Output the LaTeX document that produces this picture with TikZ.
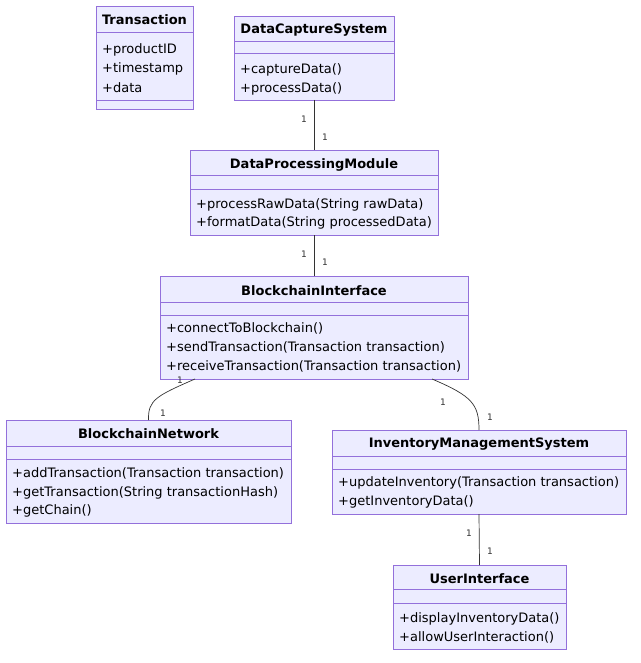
\documentclass[tikz,border=0pt]{standalone}
\usepackage{fontspec}
\setmainfont{DejaVu Sans}
\usetikzlibrary{calc}
\definecolor{classfill}{HTML}{ECECFF}
\definecolor{classline}{HTML}{9370DB}
\definecolor{linkgray}{HTML}{333333}

\begin{document}
\begin{tikzpicture}[x=1pt, y=-1pt,
  cls/.style={draw=classline, fill=classfill, line width=0.9pt, inner sep=0pt, outer sep=0pt, anchor=north west},
  sep/.style={draw=classline, line width=0.9pt},
  title/.style={font=\fontsize{13}{15}\selectfont\bfseries, inner sep=0pt},
  member/.style={font=\fontsize{13}{15}\selectfont, anchor=west, inner sep=0pt},
  link/.style={draw=linkgray, line width=0.7pt},
  mult/.style={font=\fontsize{9}{10}\selectfont, text=linkgray, inner sep=0pt}]
  \useasboundingbox (0,0) rectangle (640,663);

  % Transaction
  \node[cls, minimum width=97pt, minimum height=103pt] (tr) at (96,6) {};
  \draw[sep] (96,32) -- (193,32);
  \draw[sep] (96,100) -- (193,100);
  \node[title] (trT) at (144.5,20) {Transaction};
  \node[member] (tr1) at (102,49.5) {+productID};
  \node[member] (tr2) at (102,68.5) {+timestamp};
  \node[member] (tr3) at (102,87.5) {+data};

  % Data capture
  \node[cls, minimum width=160pt, minimum height=84pt] (dcs) at (234,16) {};
  \draw[sep] (234,41) -- (394,41);
  \draw[sep] (234,53) -- (394,53);
  \node[title] (dcsT) at (314,30) {DataCaptureSystem};
  \node[member] (dcs1) at (240,69.5) {+captureData()};
  \node[member] (dcs2) at (240,88.5) {+processData()};

  % Data processing
  \node[cls, minimum width=248pt, minimum height=85pt] (dpm) at (190,150) {};
  \draw[sep] (190,175) -- (438,175);
  \draw[sep] (190,189) -- (438,189);
  \node[title] (dpmT) at (314,165) {DataProcessingModule};
  \node[member] (dpm1) at (196,204.5) {+processRawData(String rawData)};
  \node[member] (dpm2) at (196,222.5) {+formatData(String processedData)};

  % Blockchain interface
  \node[cls, minimum width=308pt, minimum height=103pt] (bi) at (160,276) {};
  \draw[sep] (160,302) -- (468,302);
  \draw[sep] (160,315) -- (468,315);
  \node[title] (biT) at (314,291) {BlockchainInterface};
  \node[member] (bi1) at (166,328.5) {+connectToBlockchain()};
  \node[member] (bi2) at (166,347.5) {+sendTransaction(Transaction transaction)};
  \node[member] (bi3) at (166,366.5) {+receiveTransaction(Transaction transaction)};

  % Blockchain network
  \node[cls, minimum width=285pt, minimum height=103pt] (bn) at (6,420) {};
  \draw[sep] (6,446) -- (291,446);
  \draw[sep] (6,459) -- (291,459);
  \node[title] (bnT) at (148.5,434) {BlockchainNetwork};
  \node[member] (bn1) at (12,473.5) {+addTransaction(Transaction transaction)};
  \node[member] (bn2) at (12,492.5) {+getTransaction(String transactionHash)};
  \node[member] (bn3) at (12,510.5) {+getChain()};

  % Inventory
  \node[cls, minimum width=294pt, minimum height=84pt] (ims) at (332,430) {};
  \draw[sep] (332,456) -- (626,456);
  \draw[sep] (332,469) -- (626,469);
  \node[title] (imsT) at (479,444) {InventoryManagementSystem};
  \node[member] (ims1) at (338,482.5) {+updateInventory(Transaction transaction)};
  \node[member] (ims2) at (338,501.5) {+getInventoryData()};

  % User interface
  \node[cls, minimum width=173pt, minimum height=84pt] (ui) at (393,565) {};
  \draw[sep] (393,589) -- (566,589);
  \draw[sep] (393,603) -- (566,603);
  \node[title] (uiT) at (479.5,579) {UserInterface};
  \node[member] (ui1) at (399,618.5) {+displayInventoryData()};
  \node[member] (ui2) at (399,637.5) {+allowUserInteraction()};

  % Links
  \coordinate (biL) at ($(bi.south west)+(35,0)$);
  \coordinate (biR) at ($(bi.south east)+(-36,0)$);
  \draw[link] (dcs.south) -- (dpm.north);
  \draw[link] (dpm.south) -- (bi.north);
  \draw[link] (biL) .. controls (156,396) and (148,400) .. (bn.north);
  \draw[link] (biR) .. controls (472,396) and (479,404) .. (ims.north);
  \draw[link] (ims.south) -- (ui.north);

  % Multiplicities
  \node[mult] (m1) at (304,119) {1};
  \node[mult] (m2) at (325,137) {1};
  \node[mult] (m3) at (304,254) {1};
  \node[mult] (m4) at (325,262) {1};
  \node[mult] (m5) at (180,380) {1};
  \node[mult] (m6) at (163,413) {1};
  \node[mult] (m7) at (443,402) {1};
  \node[mult] (m8) at (490,417) {1};
  \node[mult] (m9) at (469,533) {1};
  \node[mult] (m10) at (490,551) {1};
\end{tikzpicture}
\end{document}
